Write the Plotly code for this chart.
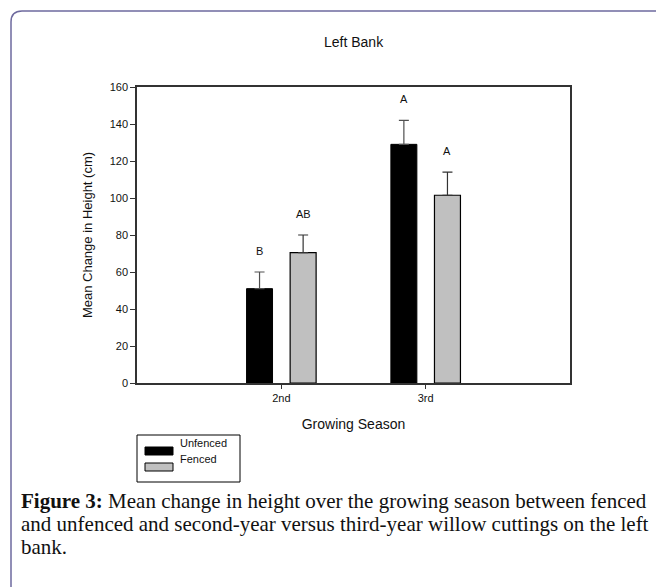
import plotly.graph_objects as go

# ---- data ----
seasons = ["2nd", "3rd"]
unfenced = [51, 129]
unfenced_err = [9, 13]
fenced = [70.5, 101.5]
fenced_err = [9.5, 12.5]
unfenced_letters = ["B", "A"]
fenced_letters = ["AB", "A"]
y_ticks = [0, 20, 40, 60, 80, 100, 120, 140, 160]
caption_lines = [
    "<b>Figure 3:</b> Mean change in height over the growing season between fenced",
    "and unfenced and second-year versus third-year willow cuttings on the left",
    "bank.",
]

# ---- geometry helpers (page pixel -> paper); page has an 8px body margin ----
W, H = 664, 587
OFF = 8
L, R, T, B = 137 - OFF, 570 - OFF, 87 - OFF, 383 - OFF


def px(x):
    return (x - OFF - L) / (R - L)


def py(y):
    return (B - (y - OFF)) / (B - T)


pos = [1, 2]
bw = 0.18
c_off = 0.151
FONT = "Arial, Liberation Sans, sans-serif"
SERIF = "Times New Roman, Liberation Serif, serif"

fig = go.Figure()
fig.add_trace(go.Bar(
    x=pos, y=unfenced, name="Unfenced", width=bw, offset=-c_off - bw / 2,
    marker=dict(color="#000000", line=dict(color="#000000", width=1)),
    error_y=dict(type="data", array=unfenced_err, symmetric=False,
                 arrayminus=[0] * len(unfenced), color="#505050",
                 thickness=1.2, width=5),
    showlegend=False,
))
fig.add_trace(go.Bar(
    x=pos, y=fenced, name="Fenced", width=bw, offset=c_off - bw / 2,
    marker=dict(color="#c0c0c0", line=dict(color="#000000", width=1.2)),
    error_y=dict(type="data", array=fenced_err, symmetric=False,
                 arrayminus=[0] * len(fenced), color="#333333",
                 thickness=1.2, width=5),
    showlegend=False,
))

annotations = []
for i in range(len(seasons)):
    annotations.append(dict(x=pos[i] - c_off, y=unfenced[i] + unfenced_err[i],
                            text=unfenced_letters[i], showarrow=False,
                            yanchor="bottom", yshift=13,
                            font=dict(family=FONT, size=11, color="#111")))
    annotations.append(dict(x=pos[i] + c_off, y=fenced[i] + fenced_err[i],
                            text=fenced_letters[i], showarrow=False,
                            yanchor="bottom", yshift=13,
                            font=dict(family=FONT, size=11, color="#111")))

# title
annotations.append(dict(xref="paper", yref="paper", x=px(354), y=py(32),
                        text="Left Bank", showarrow=False,
                        font=dict(family=FONT, size=14, color="#111")))

# custom legend
leg_items = [("Unfenced", "#000000", 451), ("Fenced", "#c0c0c0", 467)]
shapes = []
shapes.append(dict(type="rect", xref="paper", yref="paper",
                   x0=px(137), x1=px(240), y0=py(435), y1=py(482),
                   line=dict(color="#000", width=1), fillcolor="white"))
for name, col, yy in leg_items:
    shapes.append(dict(type="rect", xref="paper", yref="paper",
                       x0=px(145), x1=px(173), y0=py(yy - 4), y1=py(yy + 4),
                       line=dict(color="#000", width=1), fillcolor=col))
    annotations.append(dict(xref="paper", yref="paper", x=px(178), y=py(yy),
                            xanchor="left", text=name, showarrow=False,
                            font=dict(family=FONT, size=11, color="#111")))

# caption (one annotation per line for exact line spacing)
cap_y = [501, 524, 547]
for line, yy in zip(caption_lines, cap_y):
    annotations.append(dict(
        xref="paper", yref="paper", x=px(19), y=py(yy), xanchor="left",
        yanchor="middle", align="left", showarrow=False, text=line,
        font=dict(family=SERIF, size=21, color="#111")))

# rounded frame
fx0, fy0, rr = 11, 11, 11
fx_end, fy_end = 720, 640
frame_path = (f"M {px(fx0)},{py(fy_end)} L {px(fx0)},{py(fy0 + rr)} "
              f"Q {px(fx0)},{py(fy0)} {px(fx0 + rr)},{py(fy0)} "
              f"L {px(fx_end)},{py(fy0)}")
shapes.append(dict(type="path", xref="paper", yref="paper", path=frame_path,
                   line=dict(color="#6e6a9e", width=1.5)))

fig.update_layout(
    width=W, height=H,
    margin=dict(l=L, r=W - R, t=T, b=H - B, pad=0),
    paper_bgcolor="white", plot_bgcolor="white",
    barmode="overlay",
    font=dict(family=FONT, size=11, color="#111"),
    annotations=annotations,
    shapes=shapes,
    xaxis=dict(range=[0, 3], tickvals=pos, ticktext=seasons,
               ticks="outside", ticklen=4, tickcolor="#333",
               showline=True, linecolor="#333", linewidth=1.5, mirror=True,
               showgrid=False, zeroline=False,
               tickfont=dict(family=FONT, size=11, color="#111"),
               title=dict(text="Growing Season", standoff=16,
                          font=dict(family=FONT, size=14, color="#111"))),
    yaxis=dict(range=[0, 160], tickvals=y_ticks,
               ticks="outside", ticklen=5, tickcolor="#333",
               showline=True, linecolor="#333", linewidth=1.5, mirror=True,
               showgrid=False, zeroline=False,
               tickfont=dict(family=FONT, size=11, color="#111"),
               title=dict(text="Mean Change in Height (cm)", standoff=14,
                          font=dict(family=FONT, size=13, color="#111"))),
)

fig.write_html("out.html")
